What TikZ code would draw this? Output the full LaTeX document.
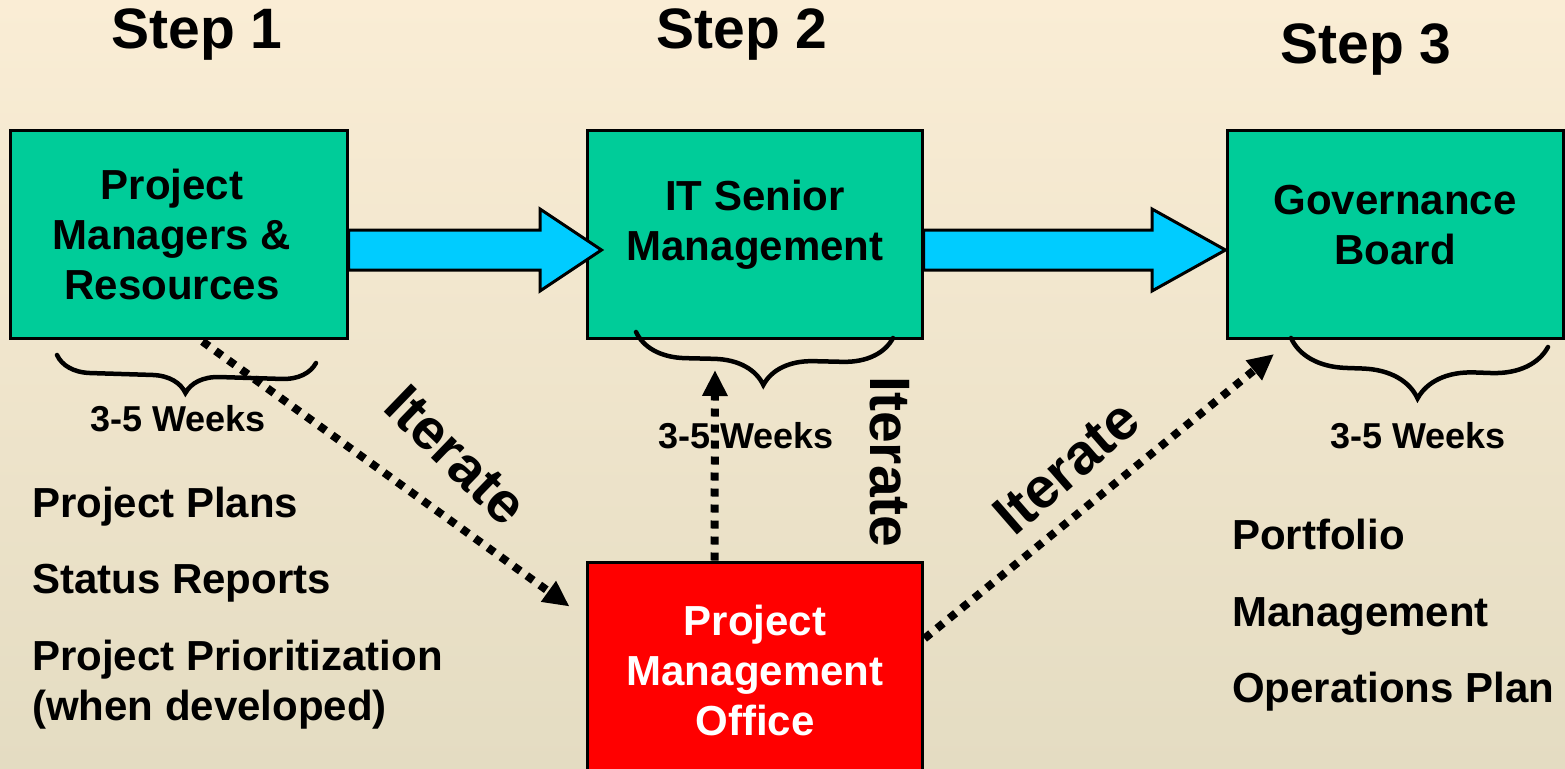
\documentclass[tikz,border=0pt]{standalone}
\usepackage{fontspec}
\setmainfont{Liberation Sans}
\usetikzlibrary{arrows.meta,calc,decorations.pathreplacing}

\definecolor{bgtop}{RGB}{250,237,213}
\definecolor{bgbot}{RGB}{228,220,194}
\definecolor{boxgreen}{RGB}{0,204,153}
\definecolor{pmored}{RGB}{255,0,0}
\definecolor{flowcyan}{RGB}{0,204,255}

\tikzset{
  stagebox/.style={draw=black, line width=3pt, fill=boxgreen, inner sep=0pt},
  officebox/.style={draw=black, line width=3pt, fill=pmored, inner sep=0pt},
  boxtext/.style={font=\fontsize{42}{50}\selectfont\bfseries, align=center, inner sep=0pt},
  steptitle/.style={font=\fontsize{57}{60}\selectfont\bfseries, inner sep=0pt},
  weeks/.style={font=\fontsize{36}{40}\selectfont\bfseries, inner sep=0pt},
  listitem/.style={font=\fontsize{42}{50}\selectfont\bfseries, inner sep=0pt, anchor=base west},
  iterlabel/.style={font=\fontsize{57}{60}\selectfont\bfseries, inner sep=0pt},
  flowarrow/.style={draw=black, line width=3pt, fill=flowcyan, line join=miter},
  iterarrow/.style={line width=8pt, dash pattern=on 8pt off 8pt,
    -{Triangle[length=26pt,width=24pt]}},
  period/.style={decorate, line width=4.5pt, line cap=round,
    decoration={brace, mirror, amplitude=#1}},
}

\begin{document}
\begin{tikzpicture}[x=1pt,y=-1pt]
  % background
  \shade[top color=bgtop, bottom color=bgbot] (0,0) rectangle (1565,768);
  \useasboundingbox (0,0) rectangle (1565,768);
  \clip (0,0) rectangle (1565,768);

  % step titles
  \node[steptitle] (s1) at (197,35) {Step 1};
  \node[steptitle] (s2) at (742,35) {Step 2};
  \node[steptitle] (s3) at (1366,50) {Step 3};

  % stage boxes
  \node[stagebox, minimum width=337pt, minimum height=208pt] (b1) at (178.5,234) {};
  \node[stagebox, minimum width=335pt, minimum height=208pt] (b2) at (754.5,234) {};
  \node[stagebox, minimum width=336pt, minimum height=208pt] (b3) at (1395,234) {};
  \node[officebox, minimum width=335pt, minimum height=240pt] (b4) at (754.5,682) {};

  \node[boxtext] (t1) at (172,234) {Project\\Managers \&\\Resources};
  \node[boxtext] (t2) at (755,225) {IT Senior\\Management};
  \node[boxtext] (t3) at (1395,225) {Governance\\Board};
  \node[boxtext, text=white] (t4) at (755,670) {Project\\Management\\Office};

  % block arrows between the stages
  \draw[flowarrow]
    ($(b1.east)+(0,-4)$) -- (540,230) -- (540,209) -- ($(b2.west)+(16,16)$)
    -- (540,291) -- (540,270) -- ($(b1.east)+(0,36)$) -- cycle;
  \draw[flowarrow]
    ($(b2.east)+(0,-4)$) -- (1152,230) -- (1152,209) -- ($(b3.west)+(0,16)$)
    -- (1152,291) -- (1152,270) -- ($(b2.east)+(0,36)$) -- cycle;

  % duration braces
  \draw[period=34pt] (57,355) -- (316,363);
  \draw[period=50pt] (636,332) -- (893,338);
  \draw[period=56pt] (1291,338) -- (1548,347);

  \node[weeks] (w1) at (178,419) {3-5 Weeks};
  \node[weeks] (w2) at (746,436) {3-5 Weeks};
  \node[weeks] (w3) at (1418,436) {3-5 Weeks};

  % iteration loops through the project management office
  \coordinate (a1s) at ($(b1.south)+(24,2)$);
  \coordinate (a1e) at ($(b4.north west)+(-16,46)$);
  \coordinate (a2s) at ($(b4.north)+(-40,0)$);
  \coordinate (a2e) at (715,370);
  \coordinate (a3s) at ($(b4.north east)+(1,78)$);
  \coordinate (a3e) at (1274,354);
  \draw[iterarrow] (a1s) -- (a1e);
  \draw[iterarrow] (a2s) -- (a2e);
  \draw[iterarrow] (a3s) -- (a3e);

  \node[iterlabel, rotate=-44] (i1) at (456,455) {Iterate};
  \node[iterlabel, rotate=-90] (i2) at (890,462) {Iterate};
  \node[iterlabel, rotate=41] (i3) at (1066,467) {Iterate};

  % deliverables
  \node[listitem] (l1) at (32,517) {Project Plans};
  \node[listitem] (l2) at (32,593) {Status Reports};
  \node[listitem] (l3) at (32,670) {Project Prioritization};
  \node[listitem] (l4) at (32,720) {(when developed)};

  \node[listitem] (r1) at (1232,549) {Portfolio};
  \node[listitem] (r2) at (1232,626) {Management};
  \node[listitem] (r3) at (1232,702) {Operations Plan};
\end{tikzpicture}
\end{document}
